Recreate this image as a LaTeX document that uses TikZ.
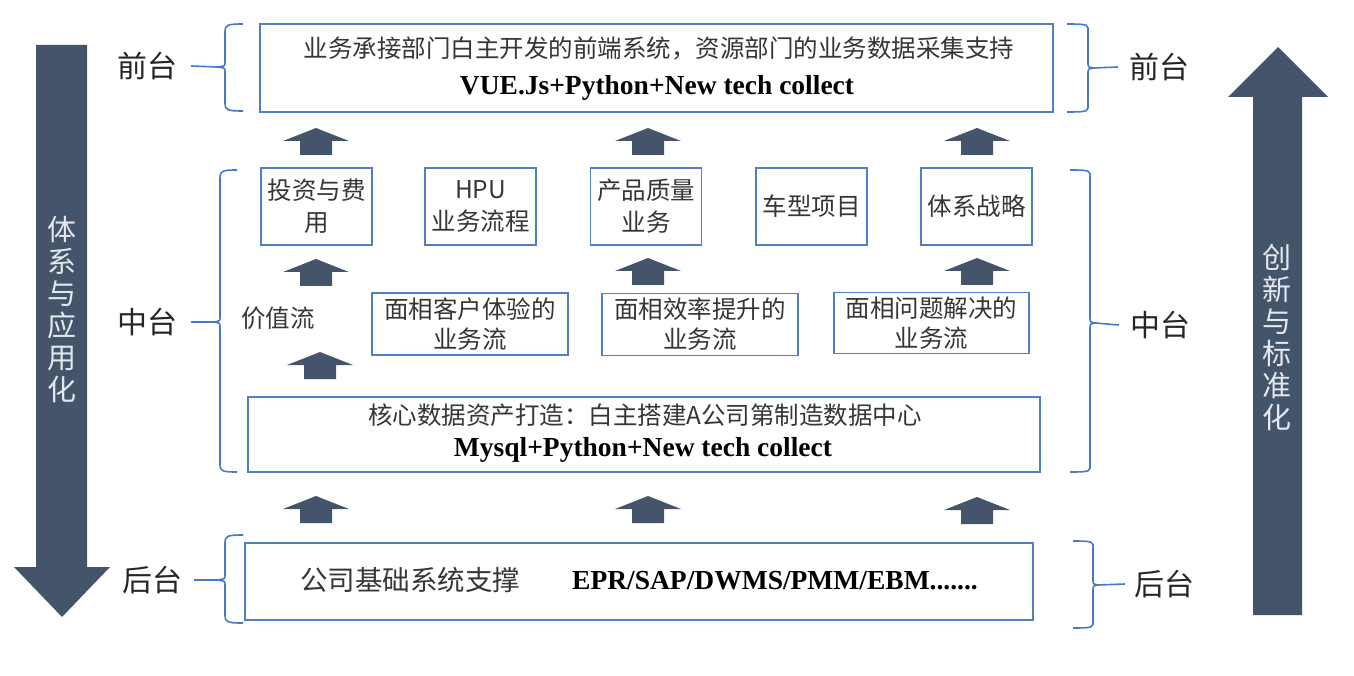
\documentclass[tikz,border=0pt]{standalone}
\usepackage{fontspec}
\setmainfont{Liberation Serif}
\newfontfamily\cjk{Noto Sans CJK SC}
\definecolor{boxblue}{HTML}{4F7FC6}
\definecolor{braceblue}{HTML}{4A78C8}
\definecolor{slate}{HTML}{44546A}
\definecolor{txtgray}{HTML}{363636}
\definecolor{arrtxt}{HTML}{E4E8EE}
\tikzset{
  box/.style={draw=boxblue, line width=1.8pt, fill=white, inner sep=0pt},
  cjkbox/.style={box, text=txtgray, align=center, font=\cjk\fontsize{24.5}{32}\selectfont},
  cjktext/.style={text=txtgray, inner sep=0pt, font=\cjk\fontsize{24.5}{32}\selectfont},
  boldtext/.style={text=black, inner sep=0pt, font=\bfseries\fontsize{27.5}{30}\selectfont},
  sidelabel/.style={text=black!85, inner sep=0pt, font=\cjk\fontsize{30}{32}\selectfont},
  vertlabel/.style={text=arrtxt, inner sep=0pt, align=center, font=\cjk\fontsize{29}{32}\selectfont},
  bracestyle/.style={draw=braceblue, line width=1.6pt},
  tickline/.style={draw=braceblue, line width=1.6pt},
  pics/uparr/.style={code={\fill[slate] (0,0) -- (33,13) -- (16,13) -- (16,27) -- (-16,27) -- (-16,13) -- (-33,13) -- cycle;}}
}
% #1 end x, #2 vertical x, #3 tip x, #4 top y, #5 mid y, #6 bottom y, #7 tip name
\newcommand\drawbrk[7]{%
  \draw[bracestyle] (#1,#4) .. controls (#2+2,#4) and (#2,#4+1) .. (#2,#4+8)
    -- (#2,#5-5) .. controls (#2,#5-1) .. (#3,#5) coordinate (#7)
    .. controls (#2,#5+1) .. (#2,#5+5)
    -- (#2,#6-8) .. controls (#2,#6-1) and (#2+2,#6) .. (#1,#6);}
\begin{document}
\begin{tikzpicture}[x=1pt,y=-1pt]
\useasboundingbox (0,0) rectangle (1354,676);
% big side arrows
\fill[slate] (36,45) -- (87,45) -- (87,567) -- (110,567) -- (62,617) -- (14,567) -- (36,567) -- cycle;
\fill[slate] (1253,615) -- (1302,615) -- (1302,97) -- (1328,97) -- (1278,47) -- (1228,97) -- (1253,97) -- cycle;
\node[vertlabel] (vl) at (62,310) {体\\系\\与\\应\\用\\化};
\node[vertlabel] (vr) at (1277,338) {创\\新\\与\\标\\准\\化};

% side labels
\node[sidelabel] (lL1) at (147,66) {前台};
\node[sidelabel] (lL2) at (147,322) {中台};
\node[sidelabel] (lL3) at (152,580) {后台};
\node[sidelabel] (lR1) at (1159,67) {前台};
\node[sidelabel] (lR2) at (1160,325) {中台};
\node[sidelabel] (lR3) at (1164,584) {后台};

% braces
\drawbrk{243}{225}{218}{24}{67}{111}{tL1}
\drawbrk{237}{220}{214}{170}{322}{472}{tL2}
\drawbrk{243}{225}{217}{535}{580}{623}{tL3}
\drawbrk{1067}{1088}{1093}{24}{68}{112}{tR1}
\drawbrk{1070}{1090}{1095}{170}{323}{472}{tR2}
\drawbrk{1073}{1093}{1098}{541}{585}{628}{tR3}
\draw[tickline] (tL1) -- ([xshift=14pt]lL1.east);
\draw[tickline] (tL2) -- ([xshift=14pt]lL2.east);
\draw[tickline] (tL3) -- ([xshift=12pt]lL3.east);
\draw[tickline] (tR1) -- ([xshift=-11pt]lR1.west);
\draw[tickline] (tR2) -- ([xshift=-11pt]lR2.west);
\draw[tickline] (tR3) -- ([xshift=-9pt]lR3.west);

% top box
\node[box, minimum width=793pt, minimum height=88pt] (top) at (656.5,68) {};
\node[cjktext] (top1) at (659,48) {业务承接部门白主开发的前端系统，资源部门的业务数据采集支持};
\node[boldtext] (top2) at (657,88) {VUE.Js+Python+New tech collect};

% arrows row A
\pic at (316,128) {uparr};
\pic at (648,128) {uparr};
\pic at (977,128) {uparr};

% row 1 boxes
\node[cjkbox, minimum width=111pt, minimum height=77pt] (b1) at (316.5,206.5) {投资与费\\用};
\node[cjkbox, minimum width=111pt, minimum height=77pt] (b2) at (480.5,206.5) {HPU\\业务流程};
\node[cjkbox, minimum width=111pt, minimum height=77pt] (b3) at (646,206.5) {产品质量\\业务};
\node[cjkbox, minimum width=111pt, minimum height=77pt] (b4) at (811.5,206.5) {车型项目};
\node[cjkbox, minimum width=111pt, minimum height=77pt] (b5) at (976.5,206.5) {体系战略};

% arrows row B
\pic at (316,259) {uparr};
\pic at (648,258) {uparr};
\pic at (977,258) {uparr};

% row 2
\node[cjktext] (vs) at (278,318) {价值流};
\node[cjkbox, font=\cjk\fontsize{24.5}{30}\selectfont, minimum width=196pt, minimum height=62pt] (c1) at (470,324) {面相客户体验的\\业务流};
\node[cjkbox, font=\cjk\fontsize{24.5}{30}\selectfont, minimum width=196pt, minimum height=62pt] (c2) at (700,324.5) {面相效率提升的\\业务流};
\node[cjkbox, font=\cjk\fontsize{24.5}{30}\selectfont, minimum width=195pt, minimum height=61pt] (c3) at (931.5,323) {面相问题解决的\\业务流};

% arrow row C
\pic at (320,352) {uparr};

% core box
\node[box, minimum width=792pt, minimum height=75pt] (core) at (644,434.5) {};
\node[cjktext] (core1) at (645,415) {核心数据资产打造：白主搭建A公司第制造数据中心};
\node[boldtext] (core2) at (643,450) {Mysql+Python+New tech collect};

% arrows row D
\pic at (316,496) {uparr};
\pic at (648,496) {uparr};
\pic at (977,497) {uparr};

% bottom box
\node[box, minimum width=788pt, minimum height=77pt] (bot) at (639,581.5) {};
\node[cjktext, font=\cjk\fontsize{27.5}{30}\selectfont] (bot1) at (410,580) {公司基础系统支撑};
\node[boldtext] (bot2) at (775,581) {EPR/SAP/DWMS/PMM/EBM.......};
\end{tikzpicture}
\end{document}
